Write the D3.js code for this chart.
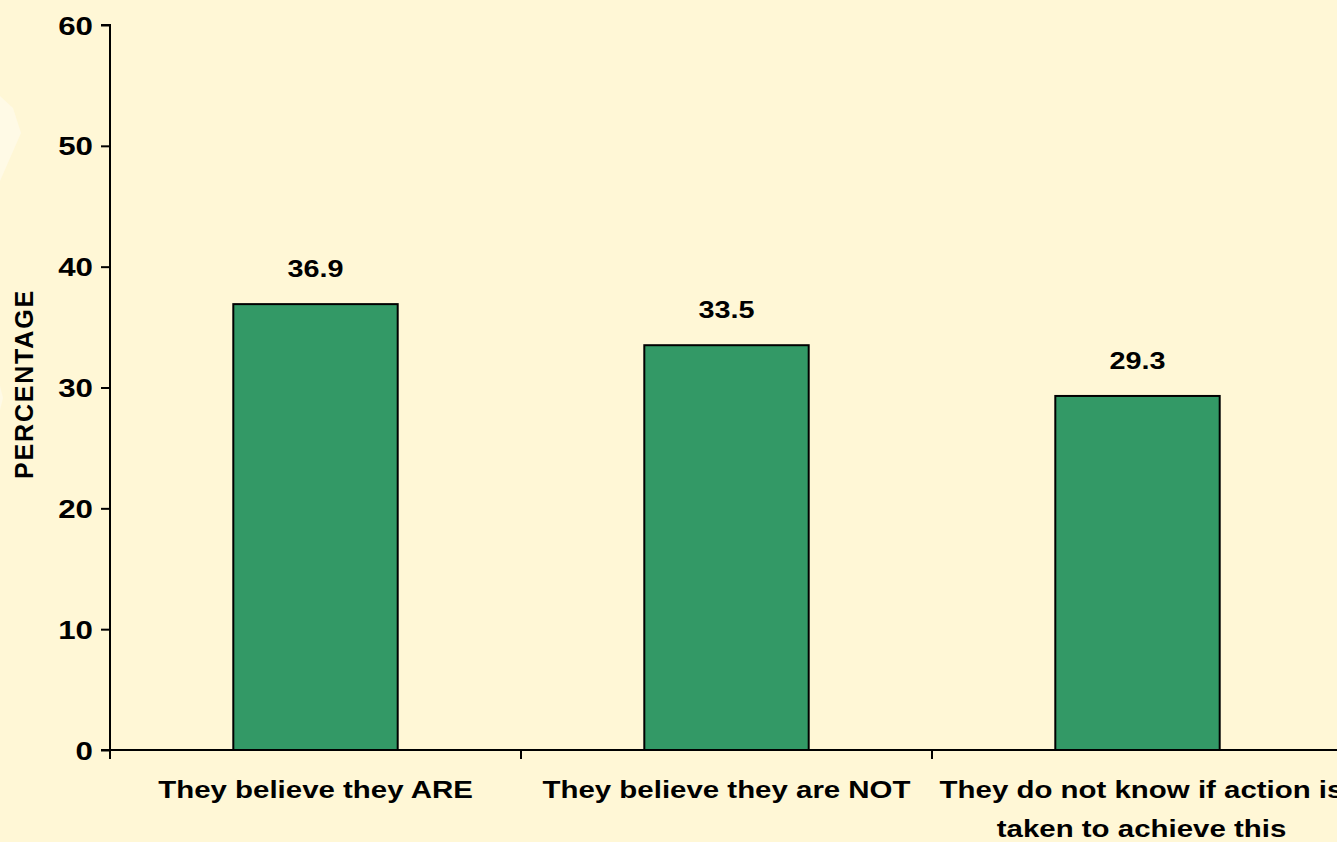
<!DOCTYPE html>
<html>
<head>
<meta charset="utf-8">
<script src="https://cdn.jsdelivr.net/npm/d3@7"></script>
<style>
  html, body { margin: 0; padding: 0; background: #FFF7D6; overflow: hidden; }
  svg { display: block; }
  text { font-family: "Liberation Sans", Arial, sans-serif; font-weight: bold; fill: #000; }
</style>
</head>
<body>
<svg id="chart" width="1337" height="842"></svg>
<script>
// Survey responses (percent of respondents)
const categories = [
  ["They believe they ARE"],
  ["They believe they are NOT"],
  ["They do not know if action is", "taken to achieve this"]
];
const values = [36.9, 33.5, 29.3];
const yTicks = [0, 10, 20, 30, 40, 50, 60];
const yTitle = "PERCENTAGE";

const svg = d3.select("#chart");
const W = 1337, H = 842;

// soft lighter shapes at the left edge of the backdrop
svg.append("path")
  .attr("d", "M0,96 L13,108 L21,133 L0,181 Z")
  .attr("fill", "#FFFAE6");
svg.append("path")
  .attr("d", "M0,386 L3,398 L0,410 Z")
  .attr("fill", "#FFFAE6");

const plot = { left: 110, right: 1343, top: 25, bottom: 750 };

const x = d3.scaleBand()
  .domain(d3.range(categories.length))
  .range([plot.left, plot.right])
  .paddingInner(0)
  .paddingOuter(0);

const y = d3.scaleLinear().domain([0, 60]).range([plot.bottom, plot.top]);

const barW = x.bandwidth() * 0.4;
const cx = i => x(i) + x.bandwidth() / 2;

// bars
svg.append("g").selectAll("rect")
  .data(values)
  .join("rect")
  .attr("x", (d, i) => cx(i) - barW / 2)
  .attr("y", d => y(d))
  .attr("width", barW)
  .attr("height", d => y(0) - y(d))
  .attr("fill", "#339966")
  .attr("stroke", "#000")
  .attr("stroke-width", 2);

// value labels (glyphs drawn slightly wide)
svg.append("g").selectAll("text")
  .data(values)
  .join("text")
  .attr("transform", (d, i) => `translate(${cx(i)},${y(d) - 27}) scale(1.2,1)`)
  .attr("text-anchor", "middle")
  .attr("font-size", 24)
  .text(d => d.toFixed(1));

// y axis
const yAxis = d3.axisLeft(y).tickValues(yTicks).tickSize(9).tickPadding(0);
const gy = svg.append("g")
  .attr("transform", `translate(${plot.left},0)`)
  .call(yAxis);
gy.attr("font-size", null).attr("font-family", null);
gy.select(".domain").attr("stroke", "#000").attr("stroke-width", 2)
  .attr("d", `M${-9},${plot.top}H0V${plot.bottom}`);
gy.selectAll(".tick line").attr("stroke", "#000").attr("stroke-width", 2);
gy.selectAll(".tick text")
  .attr("x", null)
  .attr("dy", null)
  .attr("transform", "translate(-17,9) scale(1.25,1)")
  .attr("font-size", 25)
  .attr("fill", "#000");

// x axis line with category boundary ticks
svg.append("line")
  .attr("x1", plot.left - 9).attr("x2", W)
  .attr("y1", y(0)).attr("y2", y(0))
  .attr("stroke", "#000").attr("stroke-width", 2);

const boundaries = d3.range(categories.length).map(i => x(i));
svg.append("g").selectAll("line")
  .data(boundaries)
  .join("line")
  .attr("x1", d => d).attr("x2", d => d)
  .attr("y1", y(0)).attr("y2", y(0) + 9)
  .attr("stroke", "#000").attr("stroke-width", 2);

// category labels; the long last label runs up to the right edge
const cat = svg.append("g").selectAll("text")
  .data(categories)
  .join("text")
  .attr("transform", (d, i) => `translate(${cx(i) + (d.length > 1 ? 4 : 0)},798) scale(1.28,1)`)
  .attr("text-anchor", "middle")
  .attr("font-size", 23);
cat.selectAll("tspan")
  .data(d => d)
  .join("tspan")
  .attr("x", 0)
  .attr("dy", (d, j) => j === 0 ? "0px" : "39px")
  .text(d => d);

// y axis title
svg.append("text")
  .attr("transform", `translate(33,384) rotate(-90)`)
  .attr("text-anchor", "middle")
  .attr("font-size", 25)
  .attr("letter-spacing", "1.8px")
  .text(yTitle);
</script>
</body>
</html>
